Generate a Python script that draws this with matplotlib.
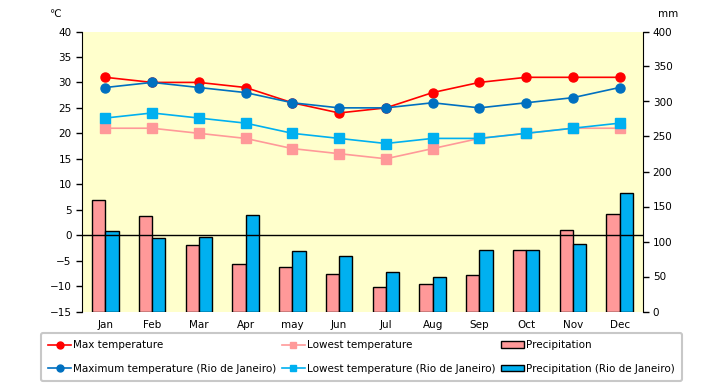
import matplotlib
matplotlib.use("Agg")
import matplotlib.pyplot as plt
import numpy as np
from matplotlib.lines import Line2D
from matplotlib.patches import Patch

months = ["Jan", "Feb", "Mar", "Apr", "may", "Jun", "Jul", "Aug", "Sep", "Oct", "Nov", "Dec"]
max_temp = [31, 30, 30, 29, 26, 24, 25, 28, 30, 31, 31, 31]
low_temp = [21, 21, 20, 19, 17, 16, 15, 17, 19, 20, 21, 21]
precip = [160, 136, 95, 68, 63, 53, 35, 40, 52, 88, 116, 140]
max_rio = [29, 30, 29, 28, 26, 25, 25, 26, 25, 26, 27, 29]
low_rio = [23, 24, 23, 22, 20, 19, 18, 19, 19, 20, 21, 22]
precip_rio = [115, 105, 106, 138, 86, 80, 56, 50, 88, 88, 96, 169]

plt.rcParams['font.family'] = ['DejaVu Sans']
fig = plt.figure(figsize=(7.2, 3.85), dpi=100)
ax = fig.add_axes([82/720, 1-311.5/385, (643-82)/720, 280/385])
ax2 = ax.twinx()

x = np.arange(len(months))
w = 0.285
ax2.bar(x - w/2, precip, width=w, color="#FF9999", edgecolor="black", linewidth=1, zorder=2)
ax2.bar(x + w/2, precip_rio, width=w, color="#00B0F0", edgecolor="black", linewidth=1, zorder=2)

ax.set_zorder(ax2.get_zorder() + 1)
ax.patch.set_visible(False)
ax2.patch.set_visible(True)
ax2.patch.set_facecolor("#FFFFCC")

ax.axhline(0, color="black", lw=1, zorder=3)
ax.plot(x, low_temp, color="#FF9999", marker="s", ms=6.5, lw=1.2, zorder=4)
ax.plot(x, low_rio, color="#00B0F0", marker="s", ms=6.5, lw=1.2, zorder=4)
ax.plot(x, max_temp, color="#FF0000", marker="o", ms=6.5, lw=1.2, zorder=5)
ax.plot(x, max_rio, color="#0070C0", marker="o", ms=6.5, lw=1.2, zorder=5)

ax.set_xlim(-0.5, 11.5)
ax.set_ylim(-15, 40)
ax2.set_ylim(0, 400)
ax.set_yticks(np.arange(-15, 41, 5))
ax2.set_yticks(np.arange(0, 401, 50))
ax.set_xticks(x)
ax.set_xticklabels(months)
for a in (ax, ax2):
    for s in ("top", "bottom"):
        a.spines[s].set_visible(False)
    a.tick_params(axis="both", labelsize=7.5, length=4, width=1, color="black")
ax.spines["right"].set_visible(False)
ax2.spines["left"].set_visible(False)
ax.tick_params(axis="x", length=0, pad=6)
ax2.tick_params(axis="y", pad=3)

fig.text(55/720, 1-14/385, "℃", fontsize=7.5, ha="center", va="center")
fig.text(668/720, 1-14/385, "mm", fontsize=7.5, ha="center", va="center")

handles = [
    Line2D([], [], color="#FF0000", marker="o", ms=5, lw=1.2),
    Line2D([], [], color="#0070C0", marker="o", ms=5, lw=1.2),
    Line2D([], [], color="#FF9999", marker="s", ms=5, lw=1.2),
    Line2D([], [], color="#00B0F0", marker="s", ms=5, lw=1.2),
    Patch(facecolor="#FF9999", edgecolor="black"),
    Patch(facecolor="#00B0F0", edgecolor="black"),
]
labels = ["Max temperature", "Maximum temperature (Rio de Janeiro)",
          "Lowest temperature", "Lowest temperature (Rio de Janeiro)",
          "Precipitation", "Precipitation (Rio de Janeiro)"]
leg = fig.legend(handles, labels, ncol=3, loc="upper left",
                 bbox_to_anchor=(41/720, 1-384/385, (682-41)/720, 51/385),
                 mode="expand", fontsize=7.5, frameon=True, fancybox=True,
                 edgecolor="#C8C8C8", handlelength=2.2, handleheight=0.6,
                 handletextpad=0.2, labelspacing=1.3, borderaxespad=0,
                 borderpad=0.7, framealpha=1)
leg.get_frame().set_linewidth(1.5)

fig.savefig("out.png", dpi=100)
